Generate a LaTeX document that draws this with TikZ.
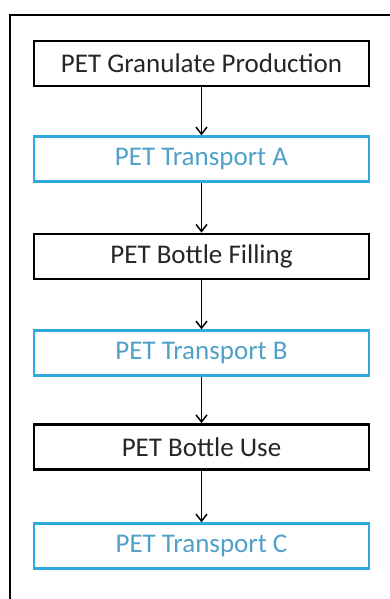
\documentclass[tikz,border=0pt]{standalone}
\usepackage{fontspec}
\setmainfont{Carlito}
\usetikzlibrary{positioning,arrows.meta}
\definecolor{transblue}{RGB}{45,170,222}
\definecolor{transtext}{RGB}{80,160,200}

\begin{document}
\begin{tikzpicture}[>={Straight Barb[width=11pt,length=7pt]}, shorten >=0pt,
  step box/.style={draw=black, line width=2.8pt, minimum width=335pt, minimum height=45pt, inner sep=0pt, font=\fontsize{27pt}{29pt}\selectfont, text=black!85},
  transport box/.style={draw=transblue, line width=2.4pt, minimum width=335pt, minimum height=45pt, inner sep=0pt, font=\fontsize{27pt}{29pt}\selectfont, text=transtext}]
\useasboundingbox (0pt, 0pt) rectangle (390pt, -599pt);
\draw[line width=2.8pt] (10pt, -599pt) -- (10pt, -15pt) -- (390pt, -15pt);
\draw (201.5pt, -63.5pt)node[step box](0){PET Granulate Production};
\draw (201.5pt, -159.0pt)node[transport box](1){PET Transport A};
\draw (201.5pt, -256.5pt)node[step box](2){PET Bottle Filling};
\draw (201.5pt, -353.0pt)node[transport box](3){PET Transport B};
\draw (201.5pt, -447.0pt)node[step box](4){PET Bottle Use};
\draw (201.5pt, -546.0pt)node[transport box](5){PET Transport C};
\path[->, line width=1.5pt] (0) edge (1);
\path[->, line width=1.5pt] (1) edge (2);
\path[->, line width=1.5pt] (2) edge (3);
\path[->, line width=1.5pt] (3) edge (4);
\path[->, line width=1.5pt] (4) edge (5);
\end{tikzpicture}
\end{document}
